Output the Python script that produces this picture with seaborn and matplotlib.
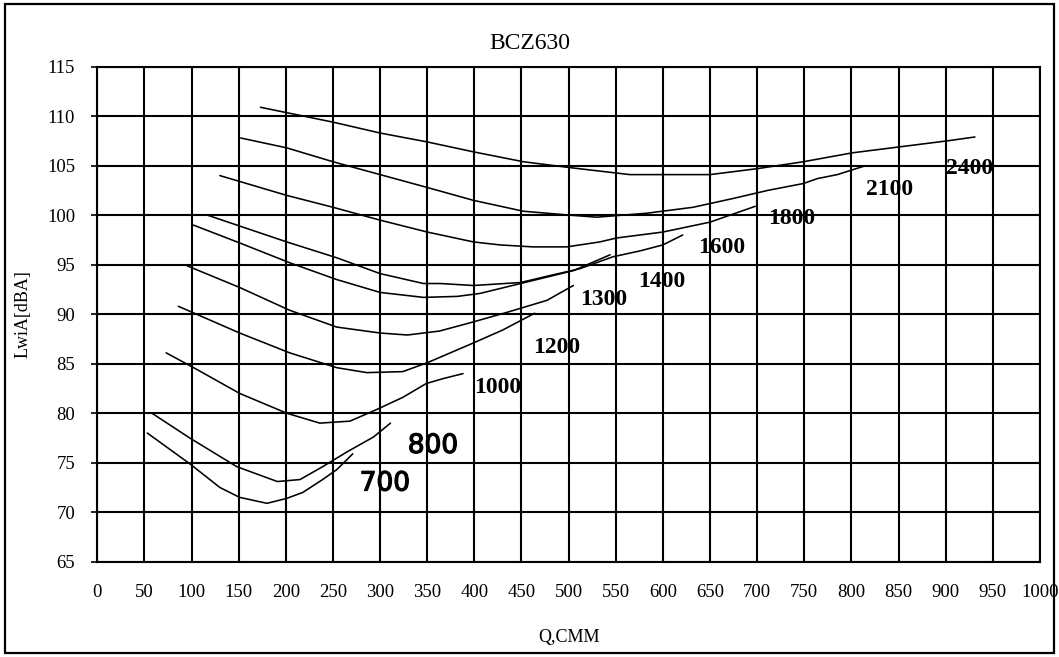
import pandas as pd
import seaborn as sns
import matplotlib.pyplot as plt
import matplotlib.patheffects as pe
from matplotlib.patches import Rectangle

# === Curve data ===
q_700 = [53, 98, 130, 151, 180, 201, 218, 239, 254, 271]
l_700 = [78.0, 74.9, 72.5, 71.5, 70.9, 71.4, 72.0, 73.3, 74.3, 75.9]

q_800 = [58, 98, 148, 191, 215, 239, 265, 293, 311]
l_800 = [80.0, 77.5, 74.6, 73.1, 73.3, 74.6, 76.1, 77.6, 79.0]

q_1000 = [73, 106, 151, 201, 236, 268, 297, 324, 349, 367, 388]
l_1000 = [86.1, 84.4, 82.0, 80.0, 79.0, 79.2, 80.4, 81.6, 83.0, 83.5, 84.0]

q_1200 = [86, 151, 204, 254, 286, 324, 350, 377, 399, 430, 448, 464]
l_1200 = [90.8, 88.1, 86.1, 84.6, 84.1, 84.2, 85.1, 86.2, 87.1, 88.4, 89.3, 90.1]

q_1300 = [95, 151, 204, 254, 300, 329, 363, 398, 435, 477, 505]
l_1300 = [94.9, 92.7, 90.4, 88.7, 88.1, 87.9, 88.3, 89.2, 90.2, 91.4, 92.9]

q_1400 = [102, 151, 204, 254, 300, 346, 382, 406, 449, 505, 544]
l_1400 = [99.0, 97.2, 95.2, 93.5, 92.2, 91.7, 91.8, 92.1, 93.1, 94.4, 96.0]

q_1600 = [117, 201, 254, 300, 346, 364, 399, 449, 480, 512, 547, 576, 600, 621]
l_1600 = [100.0, 97.3, 95.7, 94.1, 93.1, 93.1, 92.9, 93.2, 93.9, 94.6, 95.8, 96.4, 97.0, 98.0]

q_1800 = [130, 201, 250, 300, 350, 399, 427, 462, 498, 533, 551, 600, 650, 698]
l_1800 = [104.0, 102.0, 100.8, 99.5, 98.3, 97.3, 97.0, 96.8, 96.8, 97.3, 97.7, 98.3, 99.3, 100.9]

q_2100 = [152, 201, 250, 300, 350, 399, 452, 502, 530, 583, 632, 675, 711, 749, 764, 785, 815]
l_2100 = [107.8, 106.8, 105.4, 104.1, 102.8, 101.5, 100.4, 100.0, 99.8, 100.2, 100.8,
          101.7, 102.5, 103.2, 103.7, 104.1, 105.0]

q_2400 = [173, 250, 300, 350, 399, 452, 502, 565, 650, 700, 749, 801, 851, 901, 931]
l_2400 = [110.9, 109.4, 108.3, 107.4, 106.4, 105.4, 104.8, 104.1, 104.1, 104.7, 105.4,
          106.3, 106.9, 107.5, 107.9]

speeds = ["700", "800", "1000", "1200", "1300", "1400", "1600", "1800", "2100", "2400"]
q_all = [q_700, q_800, q_1000, q_1200, q_1300, q_1400, q_1600, q_1800, q_2100, q_2400]
l_all = [l_700, l_800, l_1000, l_1200, l_1300, l_1400, l_1600, l_1800, l_2100, l_2400]

# label spots next to each curve
label_x = [305, 356, 425, 487, 537, 599, 662, 737, 841, 925]
label_y = [72.9, 76.7, 82.6, 86.6, 91.5, 93.3, 96.7, 99.7, 102.6, 104.7]

x_ticks = list(range(0, 1001, 50))
y_ticks = list(range(65, 116, 5))

# === Long-form table ===
rows = []
for name, qs, ls in zip(speeds, q_all, l_all):
    for i, (q, l) in enumerate(zip(qs, ls)):
        rows.append({"speed": name, "order": i, "Q": q, "LwiA": l})
df = pd.DataFrame(rows)

# === Plot ===
sns.set_style("white")
plt.rcParams['font.family'] = ['Liberation Serif', 'DejaVu Serif']
plt.rcParams['text.color'] = 'black'
plt.rcParams['axes.labelcolor'] = 'black'
plt.rcParams['xtick.color'] = 'black'
plt.rcParams['ytick.color'] = 'black'

fig = plt.figure(figsize=(10.59, 6.57), dpi=100)
ax = fig.add_axes([0.0919, 0.145, 0.8901, 0.7535])

sns.lineplot(data=df, x="Q", y="LwiA", hue="speed", units="speed", estimator=None,
             sort=False, palette=["black"] * len(speeds), linewidth=1.15,
             legend=False, ax=ax)

ax.set_xlim(0, 1000)
ax.set_ylim(65, 115)
ax.set_xticks(x_ticks)
ax.set_yticks(y_ticks)
ax.grid(True, color="black", linewidth=1.5)
ax.set_axisbelow(True)
for sp in ax.spines.values():
    sp.set_color("black")
    sp.set_linewidth(1.5)

ax.tick_params(axis="x", length=0, pad=16, labelsize=13.5)
ax.tick_params(axis="y", length=4, width=1.2, pad=12, labelsize=13.5, left=True)

ax.set_xlabel("Q,CMM", fontsize=13, labelpad=20)
ax.set_ylabel("LwiA[dBA]", fontsize=13, labelpad=11)

# curve labels
for name, lx, ly in zip(speeds, label_x, label_y):
    if name in ("700", "800"):
        ax.text(lx, ly, name, fontsize=19, family="DejaVu Sans", ha="center", va="center",
                path_effects=[pe.withStroke(linewidth=0.9, foreground="black")])
    else:
        ax.text(lx, ly, name, fontsize=17, fontweight="bold", family="Liberation Serif",
                ha="center", va="center")

fig.text(0.5, 0.934, "BCZ630", ha="center", va="center", fontsize=17)

# outer chart border
fig.patches.append(Rectangle((0.005, 0.006), 0.99, 0.988, transform=fig.transFigure,
                             fill=False, edgecolor="black", linewidth=1.6))

fig.savefig("out.png", dpi=100)
